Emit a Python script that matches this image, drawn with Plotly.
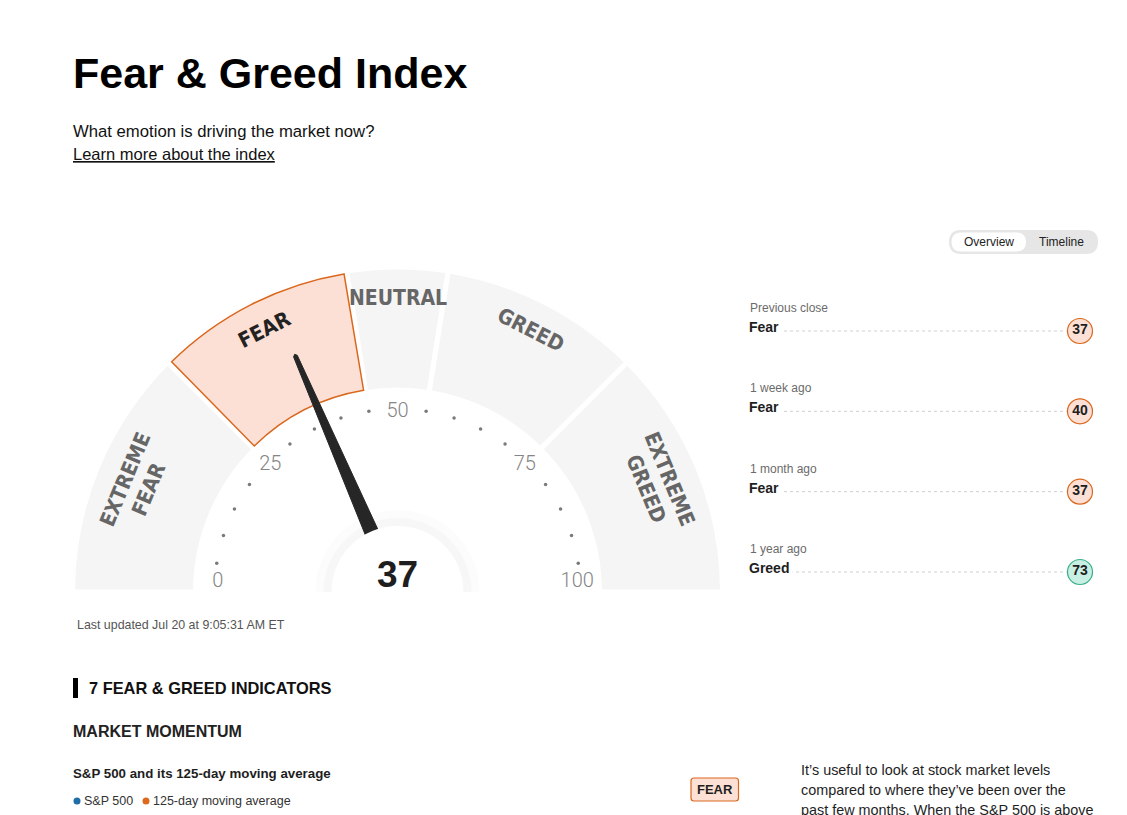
import math
import plotly.graph_objects as go

# ------------------------------------------------------------------ data
INDEX_VALUE = 37
SEGMENT_START = [0, 25, 45, 55, 75]
SEGMENT_END = [25, 45, 55, 75, 100]
SEGMENT_LABELS = ["EXTREME<br>FEAR", "FEAR", "NEUTRAL", "GREED", "EXTREME<br>GREED"]
TICK_LABELS = [0, 25, 50, 75, 100]
DOT_TICKS = [5, 10, 15, 20, 30, 35, 40, 45, 55, 60, 65, 70, 80, 85, 90, 95]

HIST_PERIODS = ["Previous close", "1 week ago", "1 month ago", "1 year ago"]
HIST_RATINGS = ["Fear", "Fear", "Fear", "Greed"]
HIST_VALUES = [37, 40, 37, 73]

LEGEND_NAMES = ["S&P 500", "125-day moving average"]
LEGEND_COLORS = ["#1f6fa6", "#db6a1f"]

# ------------------------------------------------------------------ style / layout constants
W, H = 1127, 815
OFF = 8                        # browser body margin: page px -> figure px
CX, CY = 397.5, 592.0          # gauge centre (page px)
R_OUT, R_IN = 325.0, 202.0     # gauge band radii (px)
BODY = "Liberation Sans, Arial, Helvetica, sans-serif"
COND = "DejaVu Sans Condensed, Liberation Sans Narrow, DejaVu Sans, sans-serif"
GRAY_SEG = "#f5f5f5"
RATING_STYLE = {
    "Extreme Fear": ("#fcd0c0", "#c2410c"),
    "Fear": ("#fde0d5", "#d9681e"),
    "Neutral": ("#eeeeee", "#9a9a9a"),
    "Greed": ("#c8efe3", "#3aae8b"),
    "Extreme Greed": ("#a9e6d3", "#1f8f6e"),
}
SEG_RATINGS = ["Extreme Fear", "Fear", "Neutral", "Greed", "Extreme Greed"]


def ang(v):
    """index value (0-100) -> angular coordinate in degrees"""
    return v * 180.0 / 100.0


active = next(i for i in range(len(SEGMENT_START))
              if SEGMENT_START[i] <= INDEX_VALUE < SEGMENT_END[i])

fig = go.Figure()

# ---------------------------------------------------------------- gauge (polar subplot)
seg_theta = [ang((s + e) / 2) for s, e in zip(SEGMENT_START, SEGMENT_END)]
seg_width = [ang(e - s) for s, e in zip(SEGMENT_START, SEGMENT_END)]
seg_fill = [RATING_STYLE[SEG_RATINGS[i]][0] if i == active else GRAY_SEG
            for i in range(len(SEGMENT_START))]

fig.add_trace(go.Barpolar(
    theta=seg_theta, width=seg_width, r=[R_OUT - R_IN] * len(seg_theta),
    base=[R_IN] * len(seg_theta),
    marker=dict(color=seg_fill, line=dict(color="white", width=5)),
    hoverinfo="skip", showlegend=False, subplot="polar"))

# outline of the active zone
gap_deg = math.degrees(2.5 / ((R_IN + R_OUT) / 2))
fig.add_trace(go.Barpolar(
    theta=[seg_theta[active]], width=[seg_width[active] - 2 * gap_deg],
    r=[R_OUT - R_IN - 5], base=[R_IN + 2.5],
    marker=dict(color="rgba(0,0,0,0)",
                line=dict(color=RATING_STYLE[SEG_RATINGS[active]][1], width=1.5)),
    hoverinfo="skip", showlegend=False, subplot="polar"))

# soft halo behind the centre disc (upper half only)
fig.add_trace(go.Barpolar(
    theta=[90, 90], width=[180, 180], r=[82, 74], base=[0, 0],
    marker=dict(color=["#fcfcfc", "#f7f7f7"], line=dict(width=0)),
    hoverinfo="skip", showlegend=False, subplot="polar"))

# tick dots
fig.add_trace(go.Scatterpolar(
    r=[183] * len(DOT_TICKS), theta=[ang(v) for v in DOT_TICKS], mode="markers",
    marker=dict(size=3.5, color="#7a7a7a"), hoverinfo="skip", showlegend=False,
    cliponaxis=False, subplot="polar"))

# tick labels
fig.add_trace(go.Scatterpolar(
    r=[180] * len(TICK_LABELS),
    theta=[min(max(ang(v), 3.2), 176.8) for v in TICK_LABELS],
    mode="text", text=[str(v) for v in TICK_LABELS],
    textfont=dict(family="Roboto, " + BODY, size=20, color="#858585", weight=300),
    hoverinfo="skip", showlegend=False, cliponaxis=False, subplot="polar"))

# needle (tapered polygon computed from the index value)
t0 = ang(INDEX_VALUE)
needle_pts = [(40, -7.5), (257, -2.0), (259, 0.0), (257, 2.0), (40, 7.5)]
nr = [math.hypot(d, s) for d, s in needle_pts]
nt = [t0 + math.degrees(math.atan2(s, d)) for d, s in needle_pts]
fig.add_trace(go.Scatterpolar(
    r=nr + [nr[0]], theta=nt + [nt[0]], mode="lines", fill="toself",
    fillcolor="#262626", line=dict(color="#262626", width=1),
    hoverinfo="skip", showlegend=False, cliponaxis=False, subplot="polar"))

# centre disc
fig.add_trace(go.Scatterpolar(
    r=[0], theta=[90], mode="markers",
    marker=dict(size=132, color="white", line=dict(width=0)),
    hoverinfo="skip", showlegend=False, cliponaxis=False, subplot="polar"))

# ---------------------------------------------------------------- history panel (cartesian x2/y2)
n_hist = len(HIST_VALUES)
fig.add_trace(go.Scatter(
    x=[1] * n_hist, y=list(range(n_hist)), mode="markers+text",
    text=[f"<b>{v}</b>" for v in HIST_VALUES], textposition="middle center",
    textfont=dict(family=BODY, size=14, color="#1e1e1e"),
    marker=dict(size=25, color=[RATING_STYLE[r][0] for r in HIST_RATINGS],
                line=dict(color=[RATING_STYLE[r][1] for r in HIST_RATINGS], width=1.2)),
    cliponaxis=False, hoverinfo="skip", showlegend=False, xaxis="x2", yaxis="y2"))

# empty trace so the full-page pixel axes exist
fig.add_trace(go.Scatter(x=[None], y=[None], showlegend=False, hoverinfo="skip",
                         xaxis="x", yaxis="y"))

shapes = []
annotations = []


def text(x, y, s, size, color="#111", xanchor="left", yanchor="middle",
         family=BODY, **kw):
    annotations.append(dict(x=x, y=y, xref="x", yref="y", text=s, showarrow=False,
                            xanchor=xanchor, yanchor=yanchor,
                            font=dict(family=family, size=size, color=color), **kw))


def rrect(x0, y0, x1, y1, r):
    return (f"M{x0 + r},{y0} L{x1 - r},{y0} Q{x1},{y0} {x1},{y0 + r} "
            f"L{x1},{y1 - r} Q{x1},{y1} {x1 - r},{y1} L{x0 + r},{y1} "
            f"Q{x0},{y1} {x0},{y1 - r} L{x0},{y0 + r} Q{x0},{y0} {x0 + r},{y0} Z")


for i in range(n_hist):
    shapes.append(dict(type="line", xref="x2", yref="y2", x0=0, x1=1, y0=i, y1=i,
                       line=dict(color="#cfcfcf", width=1, dash="dot"), layer="below"))
    annotations.append(dict(x=0, y=i, xref="x2", yref="y2", text=HIST_PERIODS[i],
                            showarrow=False, xanchor="left", yanchor="middle", yshift=23,
                            font=dict(family=BODY, size=12, color="#6b6b6b")))
    annotations.append(dict(x=0, y=i, xref="x2", yref="y2", text=f"<b>{HIST_RATINGS[i]}</b>",
                            showarrow=False, xanchor="left", yanchor="middle", yshift=4,
                            xshift=-3, bgcolor="white", borderpad=3,
                            font=dict(family=BODY, size=14, color="#1e1e1e")))

# ---------------------------------------------------------------- gauge zone labels
for i, lab in enumerate(SEGMENT_LABELS):
    th = math.radians(seg_theta[i])
    for k, line in enumerate(lab.split("<br>")):
        rr = 294 - 25 * k
        x = CX - rr * math.cos(th)
        y = CY - rr * math.sin(th)
        text(x, y, f"<b>{line}</b>", 21, "#222222" if i == active else "#666666",
             xanchor="center", yanchor="middle", family=COND,
             textangle=seg_theta[i] - 90)

# centre value
text(CX, 574, f"<b>{INDEX_VALUE}</b>", 37, "#1e1e1e", xanchor="center")

# ---------------------------------------------------------------- page furniture
text(71, 73, "<b>Fear &amp; Greed Index</b>", 43, "#000000")
text(71, 131, "What emotion is driving the market now?", 16.7, "#111111")
text(71, 154, "<u>Learn more about the index</u>", 16.5, "#111111")

# overview / timeline toggle
shapes.append(dict(type="path", xref="x", yref="y", path=rrect(949, 230, 1098, 254, 12),
                   fillcolor="#e6e6e6", line=dict(width=0), layer="below"))
shapes.append(dict(type="path", xref="x", yref="y", path=rrect(951.5, 232.5, 1026, 251.5, 9.5),
                   fillcolor="#ffffff", line=dict(width=0), layer="below"))
text(988.5, 242, "Overview", 12, "#222222", xanchor="center")
text(1061, 242, "Timeline", 12, "#222222", xanchor="center")

text(75, 625, "Last updated Jul 20 at 9:05:31 AM ET", 12.4, "#555555")

shapes.append(dict(type="rect", xref="x", yref="y", x0=73, x1=78, y0=678, y1=698,
                   fillcolor="#000000", line=dict(width=0)))
text(87, 688, "<b>7 FEAR &amp; GREED INDICATORS</b>", 16.4, "#111111")
text(71, 731, "<b>MARKET MOMENTUM</b>", 16, "#222222")
text(71, 773, "<b>S&amp;P 500 and its 125-day moving average</b>", 13.3, "#1e1e1e")

# legend swatches
lx = [77, 146]
for j, (name, col) in enumerate(zip(LEGEND_NAMES, LEGEND_COLORS)):
    shapes.append(dict(type="circle", xref="x", yref="y", x0=lx[j] - 3.5, x1=lx[j] + 3.5,
                       y0=801 - 3.5, y1=801 + 3.5, fillcolor=col, line=dict(width=0)))
    text(lx[j] + 5, 801, name, 12.5, "#333333")

# indicator rating badge
fill, edge = RATING_STYLE["Fear"]
shapes.append(dict(type="path", xref="x", yref="y", path=rrect(691, 778, 738.5, 801, 3),
                   fillcolor=fill, line=dict(color=edge, width=1.2)))
text(714.7, 789.5, "<b>FEAR</b>", 13, "#1e1e1e", xanchor="center")

para = ["It\u2019s useful to look at stock market levels",
        "compared to where they\u2019ve been over the",
        "past few months. When the S&amp;P 500 is above"]
for k, ln in enumerate(para):
    text(799, 770 + 20 * k, ln, 14.4, "#1e1e1e")

# ---------------------------------------------------------------- layout
row_gap = (572 - 331) / 3.0
y2_top = 331 - row_gap / 2
y2_bot = 331 + row_gap * (n_hist - 0.5)


def fx(px):
    return (px - OFF) / W


def fy(py):
    return 1 - (py - OFF) / H


fig.update_layout(
    width=W, height=H, margin=dict(l=0, r=0, t=0, b=0),
    paper_bgcolor="white", plot_bgcolor="rgba(0,0,0,0)",
    showlegend=False, hovermode=False,
    polar=dict(
        domain=dict(x=[fx(CX - R_OUT), fx(CX + R_OUT)],
                    y=[fy(CY), fy(CY - R_OUT)]),
        sector=[0, 180], hole=0, bgcolor="rgba(0,0,0,0)", barmode="overlay",
        radialaxis=dict(range=[0, R_OUT], visible=False),
        angularaxis=dict(visible=False, direction="clockwise", rotation=180),
    ),
    xaxis=dict(range=[OFF, W + OFF], domain=[0, 1], visible=False, fixedrange=True),
    yaxis=dict(range=[H + OFF, OFF], domain=[0, 1], visible=False, fixedrange=True),
    xaxis2=dict(range=[0, 1], domain=[fx(748), fx(1080)], visible=False,
                fixedrange=True, anchor="y2"),
    yaxis2=dict(range=[n_hist - 0.5, -0.5], domain=[fy(y2_bot), fy(y2_top)],
                visible=False, fixedrange=True, anchor="x2"),
    shapes=shapes, annotations=annotations,
)

fig.write_html("out.html", config={"displayModeBar": False})
